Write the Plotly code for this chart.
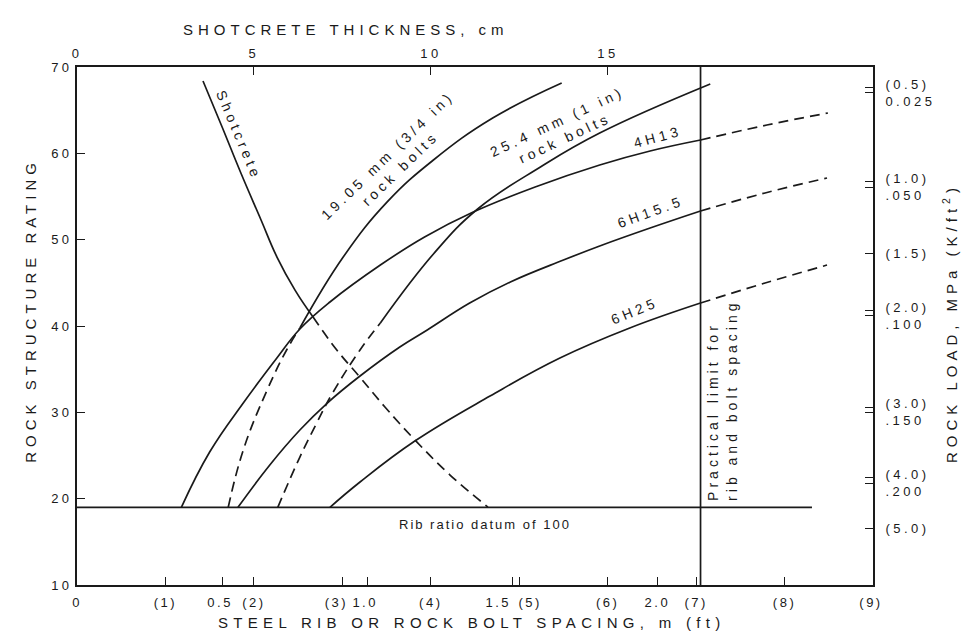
import plotly.graph_objects as go

FT_PER_M = 1 / 0.3048

# ---------------------------------------------------------------------------
# Axis scales and tick labels
# ---------------------------------------------------------------------------
spacing_range_ft = [0, 9]
rsr_range = [10, 70]
shotcrete_range_cm = [0, 22.49]

ft_ticks = [0, 1, 2, 3, 4, 5, 6, 7, 8, 9]
ft_labels = ["0", "(1)", "(2)", "(3)", "(4)", "(5)", "(6)", "(7)", "(8)", "(9)"]
m_ticks = [0.5, 1.0, 1.5, 2.0]
m_labels = ["0.5", "1.0", "1.5", "2.0"]

rsr_ticks = [10, 20, 30, 40, 50, 60, 70]
rsr_labels = ["10", "20", "30", "40", "50", "60", "70"]

shot_ticks = [0, 5, 10, 15]
shot_labels = ["0", "5", "10", "15"]

# Rock load scale, placed on the RSR scale
load_rsr = [67.3, 56.4, 48.4, 41.5, 30.3, 22.1, 16.6]
load_ksf = ["(0.5)", "(1.0)", "(1.5)", "(2.0)", "(3.0)", "(4.0)", "(5.0)"]
load_mpa = ["0.025", ".050", "", ".100", ".150", ".200", ""]

# ---------------------------------------------------------------------------
# Support curves: spacing (ft) vs rock structure rating
# ---------------------------------------------------------------------------
rsr_datum = 19.0
datum_end_ft = 8.31
practical_limit_ft = 7.05

bolt19_dash_ft = [1.71, 1.88, 2.15, 2.37, 2.52]
bolt19_dash_rsr = [19.0, 25.64, 32.59, 37.22, 39.77]
bolt19_ft = [2.52, 3.01, 3.51, 4.03, 4.70, 5.48]
bolt19_rsr = [39.77, 47.99, 54.40, 59.23, 64.09, 68.15]

bolt25_dash_ft = [2.27, 2.52, 2.71, 2.89, 3.20, 3.43]
bolt25_dash_rsr = [19.0, 24.82, 28.76, 32.24, 37.22, 40.35]
bolt25_ft = [3.43, 4.03, 4.53, 5.24, 5.91, 7.16]
bolt25_rsr = [40.35, 48.34, 53.55, 58.42, 62.35, 68.03]

rib4h13_ft = [1.18, 1.50, 1.88, 2.26, 2.52, 2.86, 3.43, 3.93, 4.48, 5.18, 5.91, 6.48, 7.05]
rib4h13_rsr = [19.0, 25.40, 31.08, 36.29, 39.65, 42.78, 47.06, 50.31, 53.20, 56.10, 58.65, 60.27, 61.54]
rib4h13_ext_ft = [7.05, 7.80, 8.49]
rib4h13_ext_rsr = [61.54, 63.28, 64.67]

rib6h155_ft = [1.82, 2.18, 2.52, 2.83, 3.20, 3.65, 3.96, 4.44, 4.90, 5.50, 5.91, 6.48, 7.05]
rib6h155_rsr = [19.0, 23.90, 27.95, 31.08, 34.21, 37.57, 39.54, 42.66, 45.10, 47.64, 49.27, 51.35, 53.32]
rib6h155_ext_ft = [7.05, 7.78, 8.48]
rib6h155_ext_rsr = [53.32, 55.41, 57.14]

rib6h25_ft = [2.86, 3.20, 3.82, 4.67, 5.46, 6.25, 7.05]
rib6h25_rsr = [19.0, 21.93, 26.68, 31.89, 36.29, 39.77, 42.66]
rib6h25_ext_ft = [7.05, 7.78, 8.48]
rib6h25_ext_rsr = [42.66, 44.98, 47.06]

# Shotcrete: thickness (cm) vs rock structure rating
shot_cm = [3.56, 4.10, 4.63, 5.20, 5.65, 6.16, 6.67]
shot_rsr = [68.38, 63.05, 57.72, 52.28, 47.99, 44.16, 41.04]
shot_dash_cm = [6.67, 7.34, 7.99, 8.70, 9.55, 10.54, 11.61]
shot_dash_rsr = [41.04, 37.22, 34.09, 30.62, 26.79, 22.74, 19.03]

# ---------------------------------------------------------------------------
INK = "#1a1a1a"
FONT = "Liberation Sans, Arial, Helvetica, sans-serif"
DASH = "10px,6px"

# crowded bottom labels are nudged sideways (pixels)
label_nudge = {"(3)": -6, "(5)": 11, "1.5": -14, "1.0": -2, "0.5": -2, "(9)": -2}


def spaced(text, px):
    return "<br>".join(
        f'<span style="letter-spacing:{px}px">{line}</span>' for line in text.split("<br>")
    )


fig = go.Figure()


def curve(x, y, dash="solid", xaxis="x", yaxis="y", shape="spline"):
    fig.add_trace(go.Scatter(
        x=x, y=y, mode="lines", xaxis=xaxis, yaxis=yaxis,
        line=dict(color=INK, width=1.7, dash=dash, shape=shape, smoothing=1.2),
        showlegend=False, hoverinfo="skip",
    ))


def empty_trace(xaxis, yaxis):
    fig.add_trace(go.Scatter(x=[None], y=[None], xaxis=xaxis, yaxis=yaxis,
                             showlegend=False, hoverinfo="skip"))


curve(bolt19_dash_ft, bolt19_dash_rsr, DASH)
curve(bolt19_ft, bolt19_rsr)
curve(bolt25_dash_ft, bolt25_dash_rsr, DASH)
curve(bolt25_ft, bolt25_rsr)
curve(rib4h13_ft, rib4h13_rsr)
curve(rib4h13_ext_ft, rib4h13_ext_rsr, DASH)
curve(rib6h155_ft, rib6h155_rsr)
curve(rib6h155_ext_ft, rib6h155_ext_rsr, DASH)
curve(rib6h25_ft, rib6h25_rsr)
curve(rib6h25_ext_ft, rib6h25_ext_rsr, DASH)
curve(shot_cm, shot_rsr, xaxis="x2")
curve(shot_dash_cm, shot_dash_rsr, DASH, xaxis="x2")

# rib ratio datum and practical spacing limit
curve([0, datum_end_ft], [rsr_datum, rsr_datum], shape="linear")
curve([practical_limit_ft, practical_limit_ft], rsr_range, shape="linear")

# right-axis ticks: a second mark where both units are given
load_vals = [r - 0.3 if m else r for r, m in zip(load_rsr, load_mpa)]
load_text = [spaced(f"{k}<br>{m}" if m else k, 3.5) for k, m in zip(load_ksf, load_mpa)]
load_pair_vals = [r + 0.3 for r, m in zip(load_rsr, load_mpa) if m]

tick_font = dict(family=FONT, size=13, color=INK)
tick_style = dict(showgrid=False, zeroline=False, ticks="inside", ticklen=8,
                  tickwidth=1.3, tickcolor=INK, tickfont=tick_font, tickangle=0,
                  tickmode="array")
common = dict(showline=True, linecolor=INK, linewidth=1.6, **tick_style)

ft_range_m = [v / FT_PER_M for v in spacing_range_ft]


def plain(ticks, labels):
    kept = [(v, t) for v, t in zip(ticks, labels) if t not in label_nudge]
    return [v for v, _ in kept], [spaced(t, 2.5) for _, t in kept]


ft_vals, ft_text = plain(ft_ticks, ft_labels)
m_vals, m_text = plain(m_ticks, m_labels)

layout_axes = dict(
    xaxis=dict(range=spacing_range_ft, tickvals=ft_vals, ticktext=ft_text,
               side="bottom", anchor="y", ticklabelstandoff=5, **common),
    xaxis3=dict(range=ft_range_m, tickvals=m_vals, ticktext=m_text,
                side="bottom", overlaying="x", anchor="y", ticklabelstandoff=5,
                **common),
    xaxis2=dict(range=shotcrete_range_cm, tickvals=shot_ticks,
                ticktext=[spaced(t, 3.5) for t in shot_labels], side="top",
                overlaying="x", anchor="y", ticklabelstandoff=2, **common),
    yaxis=dict(range=rsr_range, tickvals=rsr_ticks,
               ticktext=[spaced(t, 3.5) for t in rsr_labels], side="left",
               anchor="x", **common),
    yaxis2=dict(range=rsr_range, tickvals=load_vals, ticktext=load_text,
                side="right", overlaying="y", anchor="x", ticklabelstandoff=8,
                **common),
    yaxis3=dict(range=rsr_range, tickvals=load_pair_vals, showticklabels=False,
                side="right", overlaying="y", anchor="x", showline=False,
                **tick_style),
)

# single-tick axes carrying the nudged bottom labels
axis_no = 4
for ticks, labels, rng in [(ft_ticks, ft_labels, spacing_range_ft),
                           (m_ticks, m_labels, ft_range_m)]:
    for v, t in zip(ticks, labels):
        if t not in label_nudge:
            continue
        layout_axes[f"xaxis{axis_no}"] = dict(
            range=rng, tickvals=[v], ticktext=[spaced(t, 2.5)], side="bottom",
            overlaying="x", anchor="y", showline=False, ticklabelstandoff=8,
            ticklabelshift=label_nudge[t], **tick_style,
        )
        empty_trace(f"x{axis_no}", "y")
        axis_no += 1

# empty traces so the metric and rock-load axes are drawn
empty_trace("x3", "y")
empty_trace("x", "y2")
empty_trace("x", "y3")

fig.update_layout(
    width=964, height=635,
    margin=dict(l=77, r=91, t=67, b=50),
    paper_bgcolor="white", plot_bgcolor="white",
    font=dict(family=FONT, color=INK),
    **layout_axes,
)

title_font = dict(family=FONT, size=15, color=INK)
label_font = dict(family=FONT, size=14, color=INK)

annotations = [
    # axis titles
    dict(text=spaced("SHOTCRETE THICKNESS, cm", 5), xref="paper", yref="paper",
         x=0.338, y=1, yshift=38, font=title_font),
    dict(text=spaced("STEEL RIB OR ROCK BOLT SPACING, m (ft)", 5.3), xref="paper",
         yref="paper", x=0.496, y=0, yshift=-37, font=title_font),
    dict(text=spaced("ROCK STRUCTURE RATING", 5), xref="paper", yref="paper",
         x=-0.058, y=0.531, textangle=-90, font=title_font),
    dict(text=spaced("ROCK LOAD, MPa (K/ft<sup>2</sup>)", 5), xref="paper",
         yref="paper", x=1.097, y=0.506, textangle=-90, font=title_font),
    # curve labels
    dict(text=spaced("Shotcrete", 4), x=1.83, y=62.1, textangle=67),
    dict(text=spaced("19.05 mm (3/4 in)<br>rock bolts", 4), x=3.58, y=59.0,
         textangle=-44),
    dict(text=spaced("25.4 mm (1 in)<br>rock bolts", 4), x=5.47, y=62.7,
         textangle=-25),
    dict(text=spaced("4H13", 4), x=6.56, y=61.9, textangle=-15),
    dict(text=spaced("6H15.5", 4), x=6.48, y=53.2, textangle=-20),
    dict(text=spaced("6H25", 4), x=6.30, y=41.7, textangle=-22),
    dict(text=spaced("Practical limit for<br>rib and bolt spacing", 4), x=7.30,
         y=31.4, textangle=-90, align="left"),
    dict(text=spaced("Rib ratio datum of 100", 2), x=4.61, y=17.0,
         font=dict(family=FONT, size=13, color=INK)),
]
for a in annotations:
    a.setdefault("xref", "x")
    a.setdefault("yref", "y")
    a.setdefault("showarrow", False)
    a.setdefault("font", label_font)
    a.setdefault("xanchor", "center")
    a.setdefault("yanchor", "middle")
fig.update_layout(annotations=annotations)

fig.write_html("out.html")
